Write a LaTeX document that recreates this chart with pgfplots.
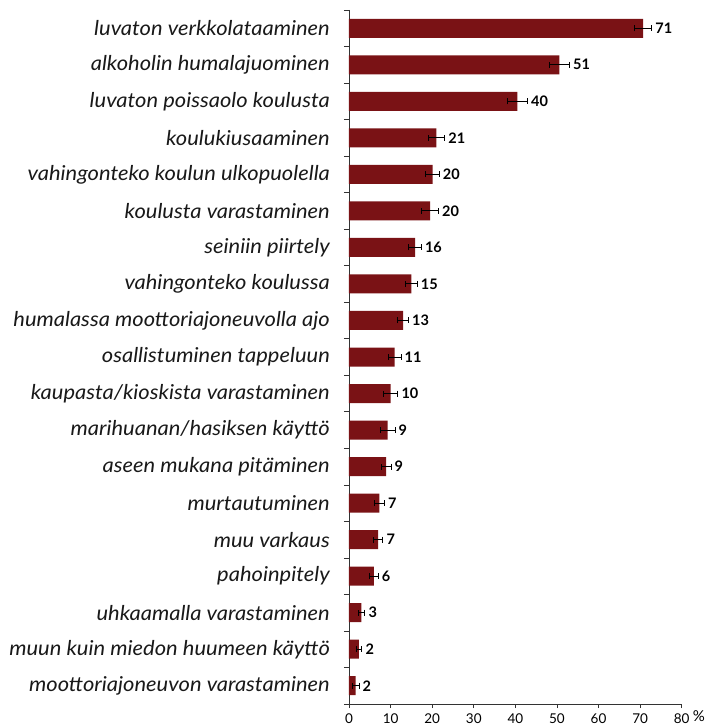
\documentclass[border=0pt]{standalone}
\usepackage{fontspec}
\setmainfont{Lato}
\newfontfamily\labfont{Lato}[FakeStretch=1.07]
\usepackage{pgfplots}
\pgfplotsset{compat=1.18}
\usepackage{pgfplotstable}
\definecolor{barred}{HTML}{7A1215}
\pgfplotstableread[col sep=comma]{
y,v,e,lab
0,70.7,2.1,71
1,50.6,2.4,51
2,40.5,2.4,40
3,21.0,2.0,21
4,20.1,1.6,20
5,19.5,2.0,20
6,15.9,1.5,16
7,15.0,1.4,15
8,13.0,1.3,13
9,11.0,1.5,11
10,10.0,1.75,10
11,9.3,1.75,9
12,8.9,1.2,9
13,7.3,1.2,7
14,7.0,1.15,7
15,6.0,1.0,6
16,3.0,0.8,3
17,2.4,0.7,2
18,1.6,0.8,2
}\datatable
\begin{document}
\begin{tikzpicture}
\begin{axis}[
  at={(0,0)}, anchor=south west,
  scale only axis,
  width=332.7pt, height=694pt,
  xmin=0, xmax=80,
  ymin=-0.5, ymax=18.5,
  y dir=reverse,
  axis lines*=left,
  axis line style={black!80, line width=0.6pt},
  xtick={0,10,...,80},
  ytick={0,...,18},
  yticklabels={luvaton verkkolataaminen, alkoholin humalajuominen, luvaton poissaolo koulusta, koulukiusaaminen, vahingonteko koulun ulkopuolella, koulusta varastaminen, seiniin piirtely, vahingonteko koulussa, humalassa moottoriajoneuvolla ajo, osallistuminen tappeluun, kaupasta/kioskista varastaminen, marihuanan/hasiksen käyttö, aseen mukana pitäminen, murtautuminen, muu varkaus, pahoinpitely, uhkaamalla varastaminen, muun kuin miedon huumeen käyttö, moottoriajoneuvon varastaminen},
  minor ytick={-0.5,0.5,...,18.5},
  major tick length=4pt,
  minor tick length=5pt,
  every major y tick/.append style={draw=none},
  tick align=outside,
  tick pos=left,
  tick style={black!80, line width=0.6pt},
  yticklabel style={font=\labfont\fontsize{20.5}{21}\selectfont\itshape, anchor=east, inner sep=0pt, xshift=-15pt, text=black!90},
  xticklabel style={font=\fontsize{13.5}{13.5}\selectfont, inner sep=0pt, yshift=-5.5pt},
  /pgf/number format/assume math mode=true,
  clip=false,
]
\addplot[xbar, bar width=19pt, fill=barred, draw=none,
  error bars/.cd, x dir=both, x explicit,
  error bar style={black, line width=0.9pt},
  error mark options={black, rotate=90, mark size=3pt, line width=0.9pt}]
  table[x=v, y=y, x error=e] {\datatable};
\addplot[draw=none, mark=none, nodes near coords, point meta=explicit symbolic,
  nodes near coords style={anchor=west, font=\fontsize{14.5}{14.5}\selectfont\bfseries, inner sep=0pt, xshift=3.5pt}]
  table[x expr=\thisrow{v}+\thisrow{e}, y=y, meta=lab] {\datatable};
\node[font=\fontsize{15}{15}\selectfont] at ([xshift=17.3pt, yshift=-12pt]rel axis cs:1,0) {\%};
\end{axis}
\pgfresetboundingbox
\path (-349pt,-23pt) rectangle (358pt,704pt);
\end{tikzpicture}
\end{document}
